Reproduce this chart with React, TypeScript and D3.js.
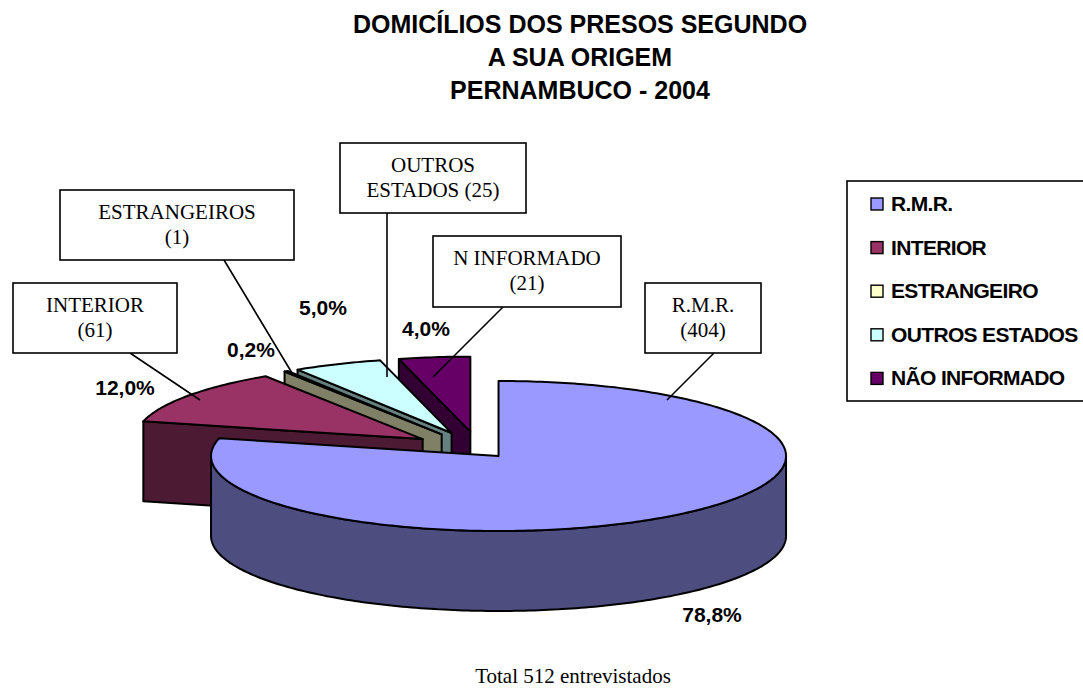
import React, { useEffect, useRef } from 'react'
import * as d3 from 'd3'

// data
const categories = ['R.M.R.', 'INTERIOR', 'ESTRANGEIRO', 'OUTROS ESTADOS', 'NÃO INFORMADO']
const percents = [78.8, 12.0, 0.2, 5.0, 4.0]
const percentLabels = ['78,8%', '12,0%', '0,2%', '5,0%', '4,0%']
const calloutLines = [
  ['R.M.R.', '(404)'],
  ['INTERIOR', '(61)'],
  ['ESTRANGEIROS', '(1)'],
  ['OUTROS', 'ESTADOS (25)'],
  ['N INFORMADO', '(21)'],
]
const titleLines = ['DOMICÍLIOS DOS PRESOS SEGUNDO', 'A SUA ORIGEM', 'PERNAMBUCO - 2004']
const footnote = 'Total 512 entrevistados'

// styles
const topColors = ['#9999ff', '#993366', '#ffffcc', '#ccffff', '#660066']
const wallColors = ['#4d4d80', '#4d1a33', '#808066', '#668080', '#330033']

// layout
const W = 1083
const H = 688
const center = { x: 479, y: 449.5 }
const rx = 287.5
const ry = 75
const depth = 80
const explode = [0.11, 0.24, 0.24, 0.24, 0.24]
const percentPos = [
  [712, 622],
  [125, 395],
  [251, 357],
  [323, 315],
  [426, 336],
]
// box x, y, w, h, then leader line from box to slice
const boxes = [
  { x: 645, y: 283, w: 116, h: 70, from: [714, 353], to: [667, 400] },
  { x: 13, y: 283, w: 164, h: 70, from: [130, 353], to: [200, 400] },
  { x: 60, y: 190, w: 234, h: 70, from: [224, 260], to: [292, 373] },
  { x: 340, y: 143, w: 186, h: 70, from: [387, 213], to: [387, 377] },
  { x: 433, y: 236, w: 188, h: 71, from: [503, 307], to: [433, 377] },
]
const legend = { x: 847, y: 181, w: 260, h: 220, firstY: 204, step: 43.6, swatchX: 871, swatch: 12, textX: 891 }

const SANS = '"Liberation Sans", Arial, sans-serif'
const SERIF = '"Liberation Serif", "Times New Roman", serif'

const App = () => {
  const ref = useRef<SVGSVGElement | null>(null)

  useEffect(() => {
    const svg = d3.select(ref.current)
    svg.selectAll('*').remove()
    svg.append('rect').attr('width', W).attr('height', H).attr('fill', '#fff')

    const title = svg.append('g').attr('font-family', SANS).attr('font-weight', 700).attr('font-size', 25).attr('text-anchor', 'middle')
    titleLines.forEach((t, i) => {
      title.append('text').attr('x', 580).attr('y', 33 + i * 33).text(t)
    })

    const arcs = d3.pie<number>().sort(null).value((d) => d)(percents)
    const line = d3.line<[number, number]>()

    const project = (c: { x: number; y: number }, a: number, z = 0): [number, number] => [
      c.x + rx * Math.sin(a),
      c.y - ry * Math.cos(a) + z,
    ]
    const sweep = (c: { x: number; y: number }, a0: number, a1: number, z = 0) => {
      const n = Math.max(2, Math.ceil(Math.abs(a1 - a0) * 60))
      return d3.range(n + 1).map((i) => project(c, a0 + ((a1 - a0) * i) / n, z))
    }

    const slices = arcs.map((arc, i) => {
      const mid = (arc.startAngle + arc.endAngle) / 2
      const c = {
        x: center.x + rx * Math.sin(mid) * explode[i],
        y: center.y - ry * Math.cos(mid) * explode[i],
      }
      return { arc, c, i }
    })

    const pie = svg.append('g').attr('stroke', '#000').attr('stroke-width', 2).attr('stroke-linejoin', 'round')

    // back slices first, the big one goes on top of them
    slices
      .slice()
      .reverse()
      .forEach(({ arc, c, i }) => {
        if (i === 0) {
          // front wall of the big slice
          const a0 = Math.PI / 2
          const a1 = (3 * Math.PI) / 2
          const pts = [...sweep(c, a0, a1), ...sweep(c, a1, a0, depth)]
          pie.append('path').attr('d', line(pts) + 'Z').attr('fill', wallColors[i])
        } else {
          // radial wall at the start angle
          const rim = project(c, arc.startAngle)
          const pts: [number, number][] = [rim, [c.x, c.y], [c.x, c.y + depth], [rim[0], rim[1] + depth]]
          pie.append('path').attr('d', line(pts) + 'Z').attr('fill', wallColors[i])
        }
        const top: [number, number][] = [[c.x, c.y], ...sweep(c, arc.startAngle, arc.endAngle)]
        pie.append('path').attr('d', line(top) + 'Z').attr('fill', topColors[i])
      })

    // callouts
    const callouts = svg.append('g')
    boxes.forEach((b, i) => {
      callouts.append('line')
        .attr('x1', b.from[0]).attr('y1', b.from[1])
        .attr('x2', b.to[0]).attr('y2', b.to[1])
        .attr('stroke', '#000').attr('stroke-width', 1.6)
      callouts.append('rect')
        .attr('x', b.x).attr('y', b.y).attr('width', b.w).attr('height', b.h)
        .attr('fill', '#fff').attr('stroke', '#000').attr('stroke-width', 1.6)
      calloutLines[i].forEach((t, k) => {
        callouts.append('text')
          .attr('x', b.x + b.w / 2).attr('y', b.y + 29 + k * 25)
          .attr('text-anchor', 'middle')
          .attr('font-family', SERIF).attr('font-size', 21)
          .text(t)
      })
    })

    // percent labels
    percentLabels.forEach((t, i) => {
      svg.append('text')
        .attr('x', percentPos[i][0]).attr('y', percentPos[i][1])
        .attr('text-anchor', 'middle')
        .attr('font-family', SANS).attr('font-weight', 700).attr('font-size', 21)
        .text(t)
    })

    // legend
    const lg = svg.append('g')
    lg.append('rect')
      .attr('x', legend.x).attr('y', legend.y).attr('width', legend.w).attr('height', legend.h)
      .attr('fill', '#fff').attr('stroke', '#000').attr('stroke-width', 1.6)
    categories.forEach((name, i) => {
      const y = legend.firstY + i * legend.step
      lg.append('rect')
        .attr('x', legend.swatchX).attr('y', y - legend.swatch / 2)
        .attr('width', legend.swatch).attr('height', legend.swatch)
        .attr('fill', topColors[i]).attr('stroke', '#000').attr('stroke-width', 1.4)
      lg.append('text')
        .attr('x', legend.textX).attr('y', y + 7)
        .attr('font-family', SANS).attr('font-weight', 700).attr('font-size', 21)
        .attr('letter-spacing', -0.65)
        .text(name)
    })

    svg.append('text')
      .attr('x', 573).attr('y', 683)
      .attr('text-anchor', 'middle')
      .attr('font-family', SERIF).attr('font-size', 21)
      .text(footnote)
  }, [])

  return <svg ref={ref} width={W} height={H} style={{ position: 'absolute', left: 0, top: 0, display: 'block' }} />
}

export default App
